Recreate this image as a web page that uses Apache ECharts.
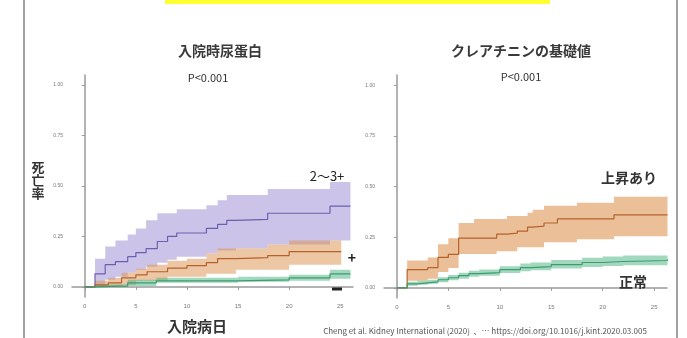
<!DOCTYPE html>
<html>
<head>
<meta charset="utf-8">
<script src="https://cdn.jsdelivr.net/npm/echarts@6/dist/echarts.min.js"></script>
<style>
  html, body { margin: 0; padding: 0; background: #fff; }
  #chart { width: 687px; height: 338px; }
</style>
</head>
<body>
<div id="chart"></div>
<script>
// tick labels
const xTicks = [0, 5, 10, 15, 20, 25]
const yTicks = [0, 0.25, 0.5, 0.75, 1]

// left panel: 入院時尿蛋白 (2~3+ / + / −)
const protHighDays = [1, 2, 3, 4.2, 5, 6, 7.1, 8.1, 9, 11.9, 13, 13.9, 14.8, 17.9, 24, 26]
const protHighEst = [0.065, 0.11, 0.125, 0.15, 0.17, 0.19, 0.225, 0.25, 0.267, 0.29, 0.31, 0.33, 0.335, 0.365, 0.40, 0.40]
const protHighUpper = [0.14, 0.2, 0.23, 0.26, 0.29, 0.33, 0.365, 0.365, 0.385, 0.405, 0.43, 0.455, 0.455, 0.485, 0.52, 0.52]
const protHighLower = [0.005, 0.035, 0.05, 0.07, 0.085, 0.10, 0.12, 0.135, 0.15, 0.165, 0.18, 0.18, 0.19, 0.21, 0.23, 0.23]

const protMidDays = [1, 2.3, 3.6, 5, 6.1, 8.1, 10, 11.9, 13, 14.8, 17.9, 20, 25.1]
const protMidEst = [0.01, 0.02, 0.045, 0.06, 0.075, 0.093, 0.105, 0.12, 0.14, 0.145, 0.155, 0.175, 0.175]
const protMidUpper = [0.03, 0.045, 0.07, 0.09, 0.11, 0.13, 0.14, 0.165, 0.19, 0.19, 0.21, 0.23, 0.23]
const protMidLower = [0, 0, 0.01, 0.03, 0.03, 0.05, 0.05, 0.065, 0.065, 0.085, 0.085, 0.11, 0.11]

const protNegDays = [1, 4.2, 7, 15, 20, 24, 26]
const protNegEst = [0.005, 0.02, 0.03, 0.035, 0.045, 0.065, 0.065]
const protNegUpper = [0.012, 0.035, 0.045, 0.05, 0.06, 0.085, 0.085]
const protNegLower = [0, 0.005, 0.02, 0.025, 0.03, 0.04, 0.04]

// right panel: クレアチニンの基礎値 (上昇あり / 正常)
const crHighDays = [1, 3, 4, 5, 6, 7.5, 9.7, 10.7, 11.7, 12.7, 13.2, 14.3, 15.6, 17.5, 21.1, 26.3]
const crHighEst = [0.09, 0.10, 0.15, 0.165, 0.245, 0.245, 0.265, 0.27, 0.28, 0.30, 0.305, 0.32, 0.34, 0.34, 0.36, 0.36]
const crHighUpper = [0.135, 0.15, 0.215, 0.245, 0.32, 0.34, 0.34, 0.355, 0.355, 0.37, 0.385, 0.405, 0.405, 0.42, 0.45, 0.45]
const crHighLower = [0.035, 0.045, 0.078, 0.098, 0.167, 0.167, 0.18, 0.18, 0.2, 0.2, 0.2, 0.225, 0.225, 0.24, 0.255, 0.255]

const crNormDays = [1, 2, 3, 4, 5, 6, 7, 8, 10, 12, 13, 15, 18, 20, 22, 26.3]
const crNormEst = [0.02, 0.025, 0.03, 0.04, 0.05, 0.06, 0.07, 0.075, 0.09, 0.10, 0.105, 0.115, 0.125, 0.13, 0.135, 0.14]
const crNormUpper = [0.03, 0.035, 0.04, 0.052, 0.063, 0.075, 0.085, 0.09, 0.107, 0.12, 0.125, 0.137, 0.148, 0.155, 0.16, 0.167]
const crNormLower = [0.01, 0.015, 0.02, 0.028, 0.037, 0.045, 0.055, 0.06, 0.073, 0.082, 0.087, 0.095, 0.103, 0.108, 0.112, 0.118]

const jp = '"Noto Sans CJK JP", "Noto Sans", sans-serif'

// stepped confidence band, drawn as one polygon through the axis scales
function band (idx, days, lower, upper, color) {
  return {
    type: 'custom', xAxisIndex: idx, yAxisIndex: idx, silent: true, z: 2,
    data: days.map((d, i) => [d, lower[i], upper[i]]),
    renderItem: (params, api) => {
      if (params.dataIndex !== 0) return null
      const top = []
      const bottom = []
      for (let i = 0; i < days.length; i++) {
        const next = i < days.length - 1 ? days[i + 1] : days[i]
        top.push(api.coord([days[i], upper[i]]), api.coord([next, upper[i]]))
        bottom.push(api.coord([days[i], lower[i]]), api.coord([next, lower[i]]))
      }
      return {
        type: 'polygon',
        shape: { points: top.concat(bottom.reverse()) },
        style: { fill: color }
      }
    }
  }
}

function curve (idx, days, est, color) {
  return {
    type: 'line', step: 'end', xAxisIndex: idx, yAxisIndex: idx,
    symbol: 'none', silent: true, z: 5,
    lineStyle: { color: color, width: 1.2 },
    data: [[0, 0]].concat(days.map((d, i) => [d, est[i]]))
  }
}

function xAx (idx) {
  return {
    type: 'value', gridIndex: idx, min: -1.25, max: 26.25,
    splitLine: { show: false },
    axisLine: { lineStyle: { color: '#9a9a9a', width: 1.5 } },
    axisTick: { customValues: xTicks, length: 3, lineStyle: { color: '#9a9a9a' } },
    axisLabel: { customValues: xTicks, fontSize: 6, color: '#777', margin: 6 }
  }
}

function yAx (idx) {
  return {
    type: 'value', gridIndex: idx, min: -0.05, max: 1.05,
    splitLine: { show: false },
    axisLine: { show: true, lineStyle: { color: '#9a9a9a', width: 1.5 } },
    axisTick: { show: true, customValues: yTicks, length: 3, lineStyle: { color: '#9a9a9a' } },
    axisLabel: { customValues: yTicks, fontSize: 5, color: '#777', margin: 9, formatter: v => v.toFixed(2) }
  }
}

function txt (x, y, text, size, bold, color) {
  return {
    type: 'text', x: x, y: y, silent: true, z: 10,
    style: {
      text: text, fill: color || '#333', font: (bold ? 'bold ' : '') + size + 'px ' + jp,
      align: 'center', verticalAlign: 'middle'
    }
  }
}

const chart = echarts.init(document.getElementById('chart'))
chart.setOption({
  animation: false,
  backgroundColor: '#fff',
  grid: [
    { left: 72, top: 75, width: 281, height: 222 },
    { left: 384, top: 75, width: 283, height: 223 }
  ],
  xAxis: [xAx(0), xAx(1)],
  yAxis: [yAx(0), yAx(1)],
  series: [
    band(0, protHighDays, protHighLower, protHighUpper, 'rgba(130,115,200,0.42)'),
    band(0, protMidDays, protMidLower, protMidUpper, 'rgba(220,145,80,0.52)'),
    band(0, protNegDays, protNegLower, protNegUpper, 'rgba(70,180,125,0.5)'),
    curve(0, protHighDays, protHighEst, '#6a60b0'),
    curve(0, protMidDays, protMidEst, '#b5622c'),
    curve(0, protNegDays, protNegEst, '#3f9a70'),
    band(1, crHighDays, crHighLower, crHighUpper, 'rgba(222,150,85,0.6)'),
    band(1, crNormDays, crNormLower, crNormUpper, 'rgba(70,180,125,0.5)'),
    curve(1, crHighDays, crHighEst, '#b5622c'),
    curve(1, crNormDays, crNormEst, '#3f9a70')
  ],
  graphic: [
    { type: 'rect', silent: true, shape: { x: 165, y: 0, width: 385, height: 4 }, style: { fill: '#ffff33' } },
    { type: 'rect', silent: true, shape: { x: 23, y: 0, width: 2, height: 338 }, style: { fill: '#a0a0a0' } },
    { type: 'rect', silent: true, shape: { x: 676, y: 0, width: 2, height: 338 }, style: { fill: '#a0a0a0' } },
    // "−" group marker
    { type: 'rect', silent: true, z: 10, shape: { x: 332, y: 287.5, width: 10, height: 3 }, style: { fill: '#222' } },
    txt(220, 51, '入院時尿蛋白', 14, true, '#3a3a3a'),
    txt(521, 51, 'クレアチニンの基礎値', 14, true, '#3a3a3a'),
    txt(208, 78, 'P<0.001', 11, false, '#333'),
    txt(521, 77, 'P<0.001', 11, false, '#333'),
    txt(38, 180, '死\n亡\n率', 13, true, '#333'),
    txt(197, 326, '入院病日', 15, true, '#333'),
    txt(327, 176, '2〜3+', 13, false, '#222'),
    txt(352, 258, '+', 14, true, '#222'),
    txt(629, 178, '上昇あり', 14, true, '#333'),
    txt(633, 282, '正常', 14, true, '#333'),
    txt(485, 331, 'Cheng et al. Kidney International (2020)  \u3001\u2026 https://doi.org/10.1016/j.kint.2020.03.005', 8, false, '#555')
  ]
})
</script>
</body>
</html>
